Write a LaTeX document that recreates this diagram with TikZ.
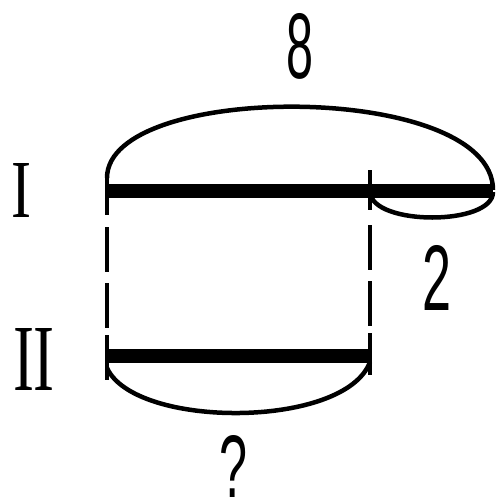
\documentclass[tikz,border=0pt]{standalone}
\usepackage{fontspec}
\usepackage{graphicx}
\setmainfont{Liberation Serif}
\newfontfamily\digitfont{Liberation Sans}
\tikzset{
  bar/.style={line width=14pt},
  thin/.style={line width=4.5pt},
  arcline/.style={line width=4.5pt},
  dashline/.style={line width=4.5pt, dash pattern=on 45pt off 11pt},
  numlabel/.style={inner sep=0pt, anchor=base, font=\digitfont},
  romlabel/.style={inner sep=0pt, anchor=base}
}
\begin{document}
\begin{tikzpicture}[x=1pt,y=-1pt]
\useasboundingbox (0,0) rectangle (497,504);
% key points
\coordinate (A) at (107,191);
\coordinate (B) at (370,191);
\coordinate (C) at (493,191);
\coordinate (D) at (107,356);
\coordinate (E) at (370,356);
% segment I
\draw[bar] (A) -- (C);
\draw[thin] (107,174) -- (107,215);
\draw[thin] (370,170) -- (370,210);
% segment II
\draw[bar] (D) -- (E);
\draw[thin] (107,335) -- (107,380);
\draw[thin] (370,333) -- (370,375);
% dashed guides
\draw[dashline] (107,227) -- (107,335);
\draw[dashline] (370,225) -- (370,333);
% braces (arcs)
\draw[arcline] (107,178) .. controls (107,81) and (493,81) .. (493,190);
\draw[arcline] (370,192) .. controls (372,226) and (493,226) .. (493,192);
\draw[arcline] (107,368) .. controls (135,429) and (345,429) .. (370,362);
% labels
\node[numlabel] (n8) at (300,78) {\resizebox{27pt}{65pt}{8}};
\node[numlabel] (n2) at (437,310) {\resizebox{29pt}{65pt}{2}};
\node[numlabel] (nq) at (234,497) {\resizebox{28pt}{62pt}{?}};
\node[romlabel] (r1) at (22,217) {\resizebox{20pt}{54pt}{I}};
\node[romlabel] (r2) at (34,390) {\resizebox{42pt}{62pt}{II}};
\end{tikzpicture}
\end{document}
